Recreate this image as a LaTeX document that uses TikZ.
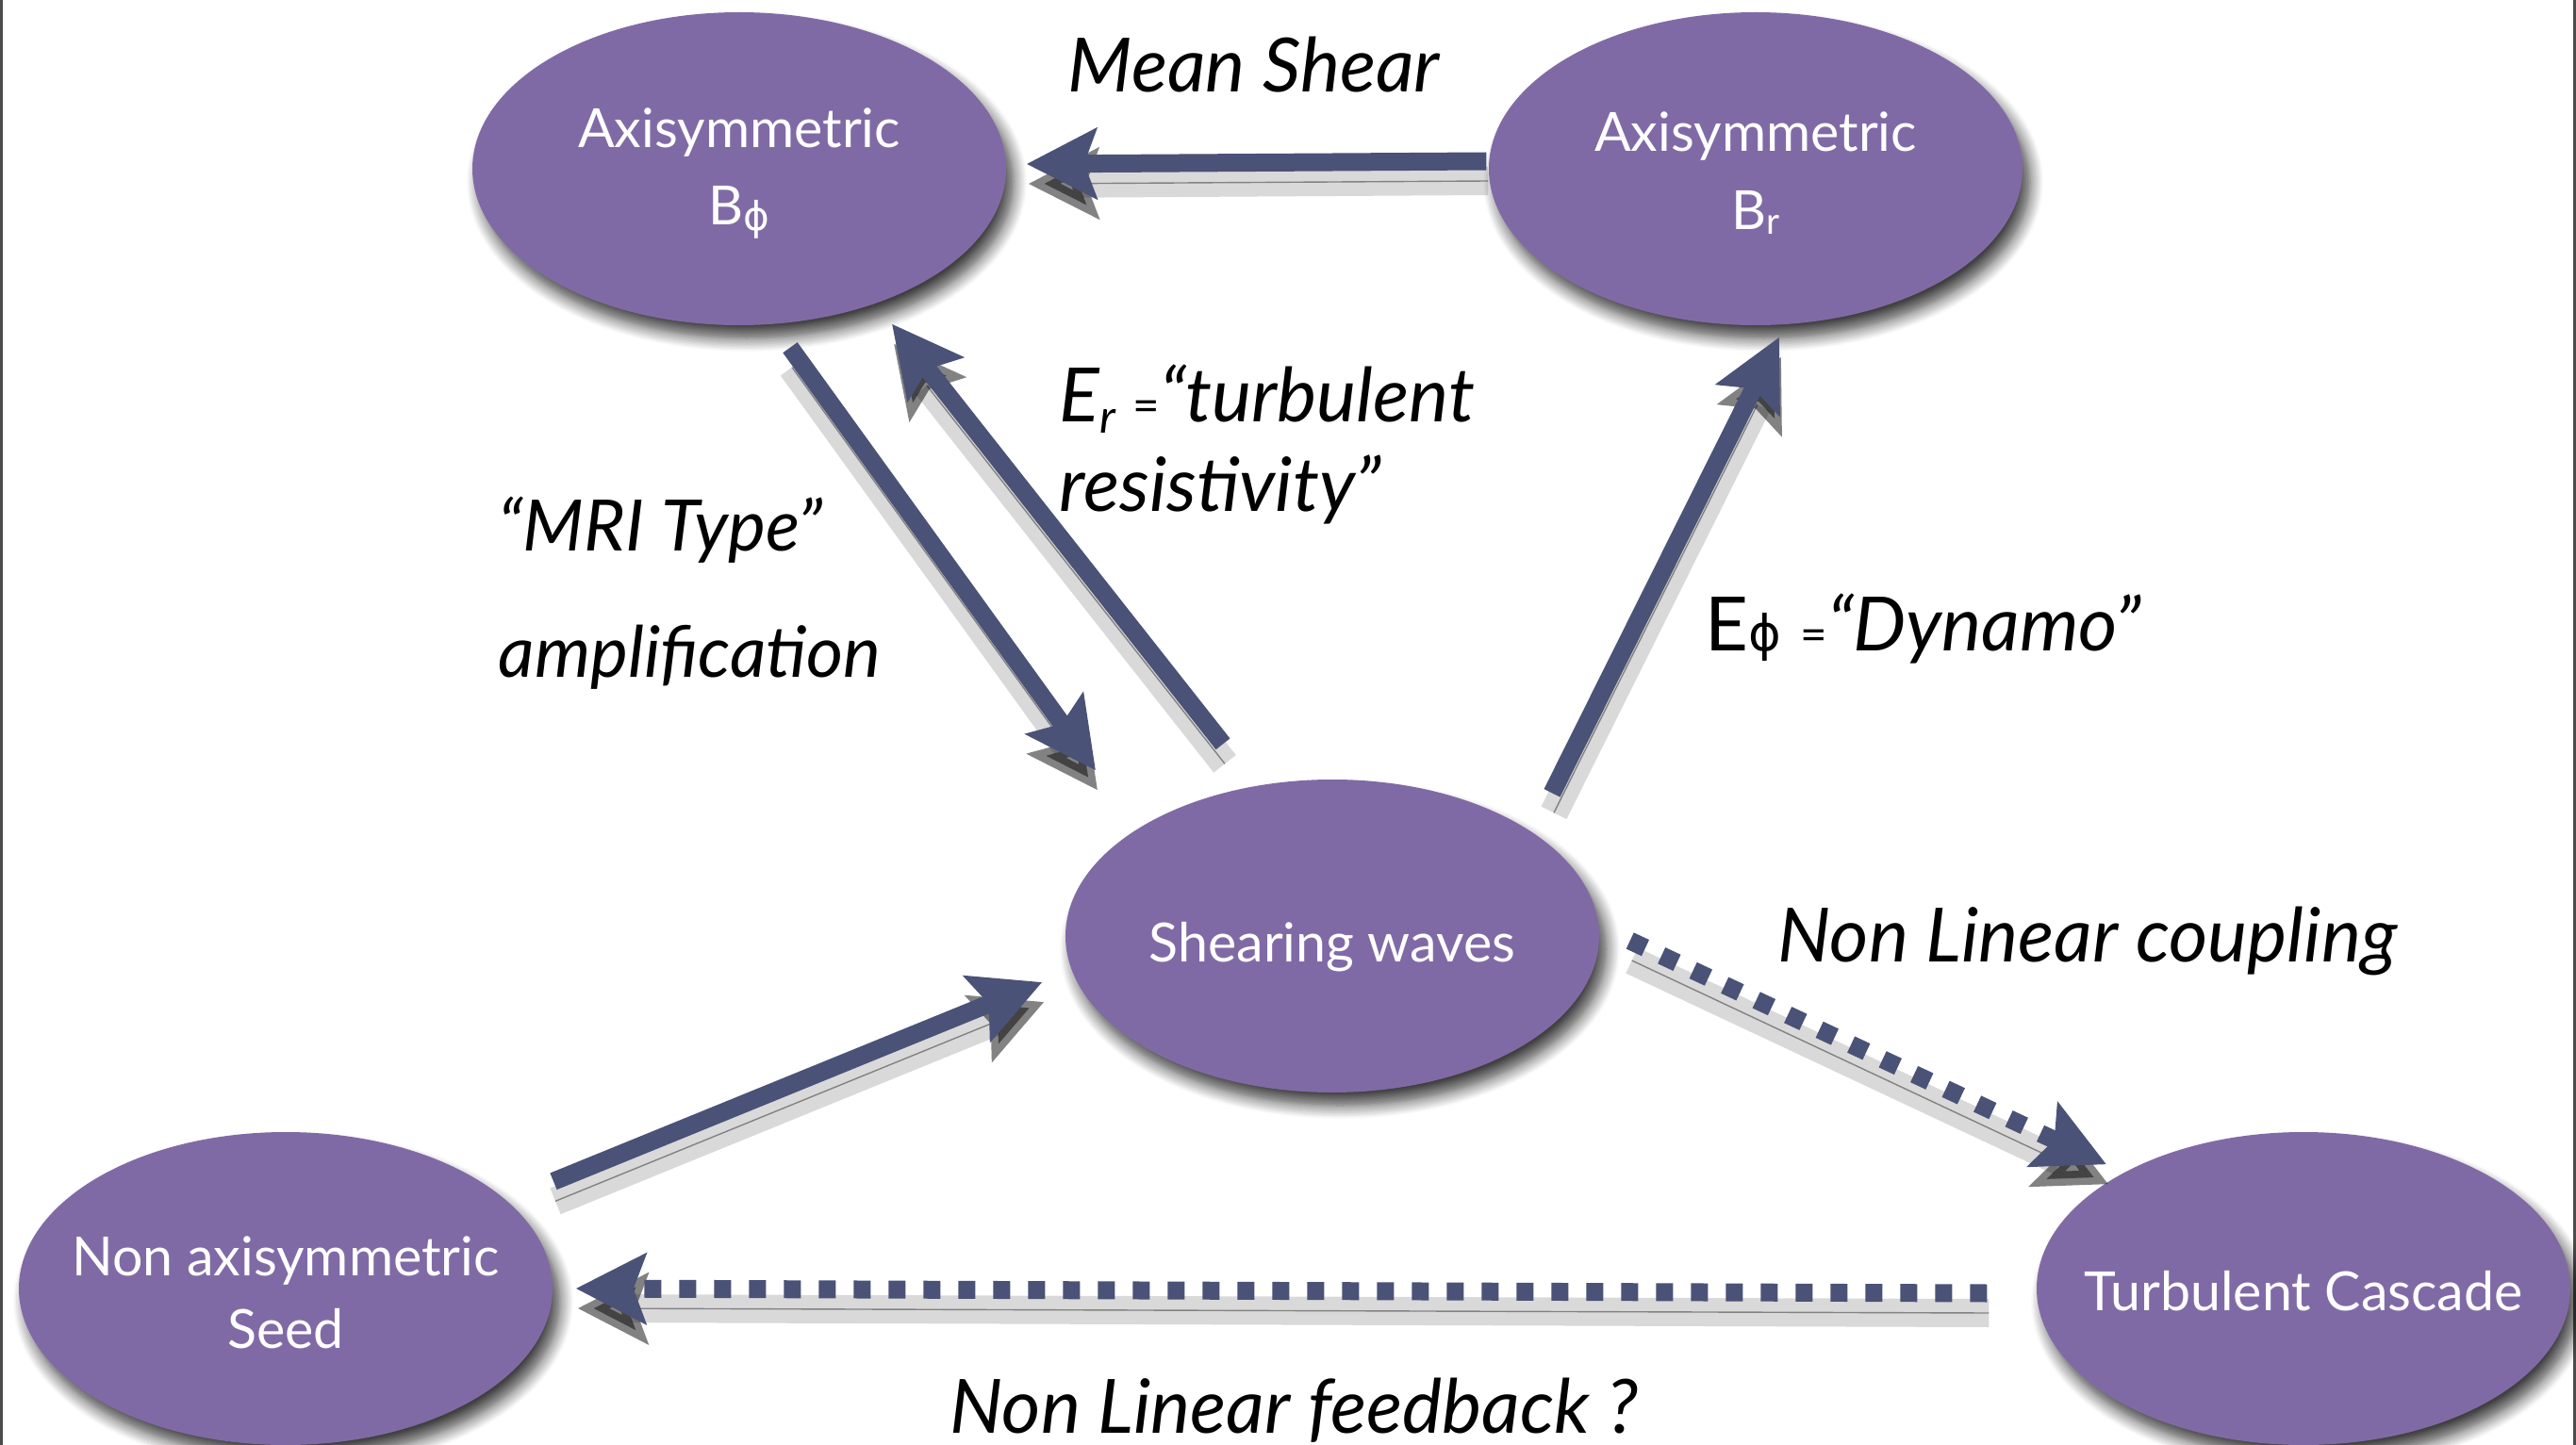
\documentclass[tikz,border=0pt]{standalone}
\usepackage{fontspec}
\setmainfont{Lato}
\newfontfamily\phifont{DejaVu Sans}
\usetikzlibrary{arrows.meta,shapes.geometric,shadows.blur}
\definecolor{blobfill}{RGB}{128,106,166}
\definecolor{arrowcol}{RGB}{75,82,119}
\tikzset{
	blob/.style={ellipse,fill=blobfill,minimum width=5.66cm,minimum height=3.32cm,inner sep=0pt,
		blur shadow={shadow xshift=.08cm,shadow yshift=-.14cm,shadow blur radius=.14cm,shadow blur steps=10,shadow opacity=75}},
	txt/.style={text=white,font=\fontsize{16.3}{21.9}\selectfont,align=center,inner sep=0pt},
	flow/.style={draw=arrowcol,line width=.19cm,-{Stealth[length=.74cm,width=.74cm,inset=.13cm]},
		preaction={draw=black,opacity=.15,line width=.3cm,transform canvas={xshift=.02cm,yshift=-.21cm}},
		preaction={draw=black,opacity=.4,transform canvas={xshift=.02cm,yshift=-.21cm}}},
	dotflow/.style={flow,dash pattern=on .18cm off .19cm},
	lbl/.style={font=\fontsize{22.6}{27}\selectfont\itshape,anchor=base west,inner sep=0pt,align=left}
}
\newcommand\smalleq{{\fontsize{14}{14}\selectfont\upshape =}}
\begin{document}
\begin{tikzpicture}
	\useasboundingbox(0,0) rectangle (27.32,-15.33);
	\draw[black!70,line width=.03cm](.015,0)--(.015,-15.33) (27.305,0)--(27.305,-15.33);
	% the five fields
	\node[blob,label={[txt,yshift=-.05cm]center:Axisymmetric\\[.06cm]B\raisebox{-.06cm}{\phifont\fontsize{12}{12}\selectfont ϕ}}](bphi)at(7.84,-1.79){};
	\node[blob,label={[txt,yshift=-.05cm]center:Axisymmetric\\[.06cm]B\raisebox{-.05cm}{\fontsize{11}{11}\selectfont r}}](br)at(18.62,-1.79){};
	\node[blob,label={[txt,yshift=-.12cm]center:Shearing waves}](shear)at(14.13,-9.93){};
	\node[blob,label={[txt,yshift=-.04cm]center:Non axisymmetric\\Seed}](seed)at(3.03,-13.67){};
	\node[blob,label={[txt,yshift=-.03cm]center:Turbulent Cascade}](casc)at(24.43,-13.67){};
	% couplings
	\draw[flow]([shift={(-.02,.08)}]br.west)--([shift={(.21,.05)}]bphi.east);
	\draw[flow]([shift={(.54,-.23)}]bphi.south)--([shift={(-2.51,.09)}]shear.north);
	\draw[flow]([shift={(-1.16,.37)}]shear.north)--([shift={(1.62,.02)}]bphi.south);
	\draw[flow]([shift={(2.33,-.15)}]shear.north)--([shift={(.25,-.12)}]br.south);
	\draw[flow]([shift={(2.84,-.53)}]seed.north)--([shift={(-.24,-.49)}]shear.west);
	\draw[dotflow]([shift={(.32,-.05)}]shear.east)--([shift={(-2.09,-.35)}]casc.north);
	\draw[dotflow]([shift={(-.52,-.05)}]casc.west)--([shift={(.24,0)}]seed.east);
	% labels
	\node[lbl](shearlbl)at(11.32,-.98){Mean Shear};
	\node[lbl](reslbl)at(11.23,-5.42){E\raisebox{-.12cm}{\fontsize{14}{14}\selectfont r} \smalleq“turbulent\\resistivity”};
	\node[lbl,font=\fontsize{21.4}{38}\selectfont\itshape](mrilbl)at(5.28,-7.18){“MRI Type”\\amplification};
	\node[lbl](dynlbl)at(18.08,-6.90){\upshape E{\phifont\fontsize{15}{15}\selectfont ϕ} \smalleq\itshape“Dynamo”};
	\node[lbl](cplbl)at(18.85,-10.20){Non Linear coupling};
	\node[lbl](fblbl)at(10.07,-15.20){Non Linear feedback ?};
\end{tikzpicture}
\end{document}
